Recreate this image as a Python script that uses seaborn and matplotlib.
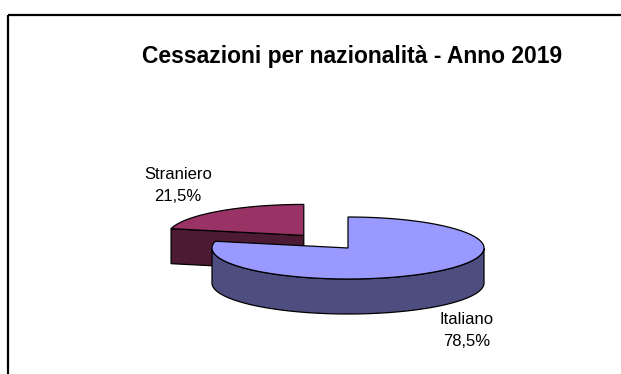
import numpy as np
import matplotlib
matplotlib.use("Agg")
import matplotlib.pyplot as plt
from matplotlib.patches import Polygon, Rectangle
import seaborn as sns

# ---- data ----
categories = ["Italiano", "Straniero"]
values = [78.5, 21.5]
value_labels = ["78,5%", "21,5%"]
title = "Cessazioni per nazionalità - Anno 2019"

# ---- style ----
sns.set_theme(style="white")
plt.rcParams["font.family"] = ["Liberation Sans", "DejaVu Sans"]
top_colors = sns.color_palette(["#9999FF", "#993366"])
side_colors = sns.color_palette(["#4D4D80", "#4D1A33"])

W, H = 621, 374
fig = plt.figure(figsize=(W / 100, H / 100), dpi=100)
ax = fig.add_axes([0, 0, 1, 1])
ax.set_xlim(0, W)
ax.set_ylim(H, 0)
ax.axis("off")

# frame
ax.add_patch(Rectangle((8, 15), W + 10, H + 10, fill=False, edgecolor="black", lw=1.6))

# ---- 3D pie geometry (layout) ----
cx, cy = 348, 248
rx, ry = 136, 31
depth = 35
explode = [0.0, 0.52]
start = 90.0  # clockwise from 12 o'clock


def ell(x0, y0, t):
    t = np.radians(t)
    return np.column_stack([x0 + rx * np.cos(t), y0 - ry * np.sin(t)])


total = sum(values)
slices = []
ang = start
for i, v in enumerate(values):
    sweep = v / total * 360.0
    t2 = ang
    t1 = ang - sweep
    mid = np.radians((t1 + t2) / 2)
    ox = cx + explode[i] * rx * np.cos(mid)
    oy = cy - explode[i] * ry * np.sin(mid)
    slices.append((i, t1, t2, ox, oy))
    ang = t1

# normalise angles so t1 < t2
norm = []
for i, t1, t2, ox, oy in slices:
    while t1 < 0:
        t1 += 360
        t2 += 360
    norm.append((i, t1, t2, ox, oy))

# draw back slices first
norm.sort(key=lambda s: s[4])
for i, t1, t2, ox, oy in norm:
    ec = "black"
    # radial faces
    for t, nrm in ((t1, t1 - 90), (t2, t2 + 90)):
        if np.sin(np.radians(nrm)) < 0:
            p = ell(ox, oy, t)[0]
            face = [(ox, oy), tuple(p), (p[0], p[1] + depth), (ox, oy + depth)]
            ax.add_patch(Polygon(face, closed=True, facecolor=side_colors[i], edgecolor=ec, lw=0.9))
    # outer rim (front half)
    for k in range(-1, 2):
        a = max(t1, 180 + 360 * k)
        b = min(t2, 360 + 360 * k)
        if b > a:
            ts = np.linspace(a, b, 200)
            top = ell(ox, oy, ts)
            bot = top.copy()
            bot[:, 1] += depth
            poly = np.vstack([top, bot[::-1]])
            ax.add_patch(Polygon(poly, closed=True, facecolor=side_colors[i], edgecolor=ec, lw=0.9))
    # top face
    ts = np.linspace(t1, t2, 300)
    pts = np.vstack([[ox, oy], ell(ox, oy, ts)])
    ax.add_patch(Polygon(pts, closed=True, facecolor=top_colors[i], edgecolor=ec, lw=0.9))

# ---- texts ----
ax.text(352, 56, title, ha="center", va="center", fontsize=16.5, fontweight="bold", color="black")
label_pos = {"Italiano": (467, 320), "Straniero": (178, 174)}
for cat, lab in zip(categories, value_labels):
    x, y = label_pos[cat]
    ax.text(x, y, cat, ha="center", va="center", fontsize=12, color="black")
    ax.text(x, y + 22, lab, ha="center", va="center", fontsize=12, color="black")

fig.savefig("out.png", dpi=100)
